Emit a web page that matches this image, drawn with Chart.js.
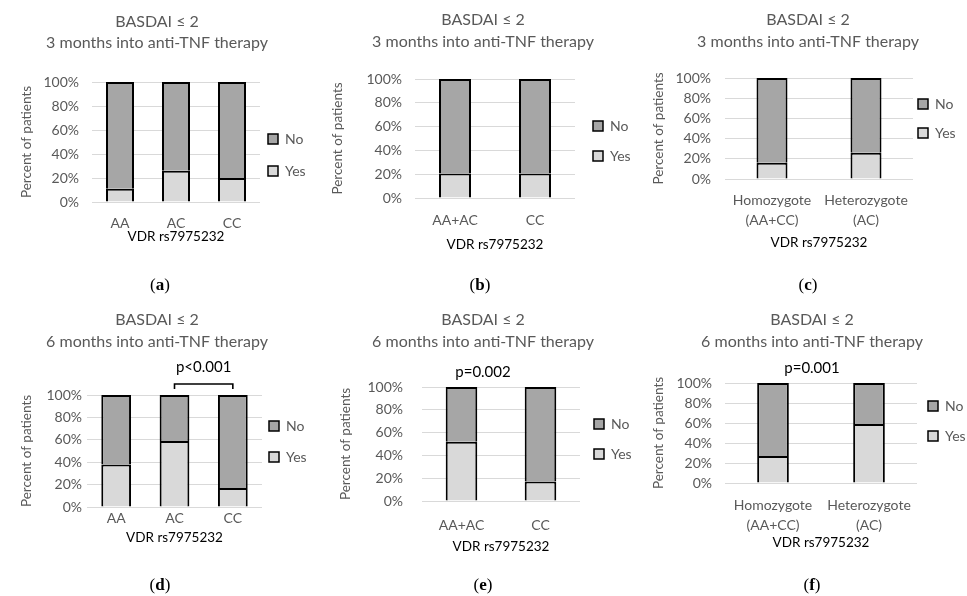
<!DOCTYPE html>
<html><head><meta charset="utf-8">
<script src="https://cdn.jsdelivr.net/npm/chart.js@4.4.1/dist/chart.umd.min.js"></script>
<style>
html,body{margin:0;padding:0;background:#fff;width:967px;height:596px;overflow:hidden;position:relative}
canvas{position:absolute}
.lbl{position:absolute;font-family:"Liberation Serif","DejaVu Serif",serif;font-size:17px;color:#000;transform:translate(-50%,-50%);white-space:nowrap}
</style></head><body>
<script>
// ---------- data ----------
const seriesNames = ['Yes', 'No'];
const title3 = ['BASDAI ≤ 2', '3 months into anti-TNF therapy'];
const title6 = ['BASDAI ≤ 2', '6 months into anti-TNF therapy'];
const xAxisTitle = 'VDR rs7975232';
const yAxisTitle = 'Percent of patients';
const yTicks = [0, 20, 40, 60, 80, 100];

const catsGenotype = ['AA', 'AC', 'CC'];
const catsDominant = ['AA+AC', 'CC'];
const catsZygosity = [['Homozygote', '(AA+CC)'], ['Heterozygote', '(AC)']];

const yesA = [11, 26, 20];     const noA = [89, 74, 80];
const yesB = [20.5, 20.5];     const noB = [79.5, 79.5];
const yesC = [16, 26];         const noC = [84, 74];
const yesD = [38, 59, 17];     const noD = [62, 41, 83];
const yesE = [52, 17];         const noE = [48, 83];
const yesF = [27, 59];         const noF = [73, 41];

const pValueD = 'p<0.001';
const pValueE = 'p=0.002';
const pValueF = 'p=0.001';
const panelLetters = ['a', 'b', 'c', 'd', 'e', 'f'];

// ---------- layout (page pixel targets) ----------
const layouts = {
  a:{L:92, R:260,T:82, B:202,Tx:157,t1:22, t2:43, Yx:27, tickR:79, xTick:223,xT:237,legCy:155,  legStep:32,legOff:8, barPct:0.5, lx:160,ly:285},
  b:{L:415,R:575,T:79, B:198,Tx:483,t1:20, t2:42, Yx:338,tickR:402,xTick:220,xT:245,legCy:141,  legStep:30,legOff:18,barPct:0.4, lx:480,ly:285},
  c:{L:725,R:913,T:78, B:179,Tx:808,t1:20, t2:42, Yx:659,tickR:711,xTick:200,xT:243,legCy:118.5,legStep:29,legOff:5, barPct:0.33,lx:808,ly:285},
  d:{L:87, R:262,T:395,B:507,Tx:157,t1:320,t2:342,Yx:27, tickR:82, xTick:518,xT:538,legCy:441.5,legStep:31,legOff:7, barPct:0.51,lx:160,ly:585,pY:367,brY:384},
  e:{L:422,R:580,T:387,B:501,Tx:483,t1:320,t2:342,Yx:346,tickR:403,xTick:525,xT:547,legCy:439,  legStep:30,legOff:14,barPct:0.4, lx:483,ly:585,pY:372},
  f:{L:725,R:917,T:383,B:483,Tx:812,t1:320,t2:342,Yx:659,tickR:712,xTick:505,xT:543,legCy:421,  legStep:30,legOff:11,barPct:0.33,lx:812,ly:585,pY:368}
};

const FAMILY = 'Lato, "Open Sans", "DejaVu Sans", sans-serif';
Chart.defaults.font.family = FAMILY;
const GRAY = '#595959';
const FS_LEG = 14, BOX = 10;

const measureCtx = document.createElement('canvas').getContext('2d');
measureCtx.font = FS_LEG + 'px ' + FAMILY;
const legendTextW = Math.max(...seriesNames.map(n => measureCtx.measureText(n).width));

const bracketPlugin = {
  id: 'bracket',
  afterDraw(chart, args, o) {
    if (!o || !o.text) return;
    const xs = chart.scales.x, ctx = chart.ctx;
    const x1 = xs.getPixelForValue(o.from), x2 = xs.getPixelForValue(o.to);
    const top = chart.chartArea.top;
    ctx.save();
    ctx.strokeStyle = '#000'; ctx.lineWidth = 1.6;
    ctx.beginPath();
    ctx.moveTo(x1, top - o.lineOff + 5); ctx.lineTo(x1, top - o.lineOff);
    ctx.lineTo(x2, top - o.lineOff); ctx.lineTo(x2, top - o.lineOff + 5);
    ctx.stroke();
    ctx.fillStyle = '#000'; ctx.font = '15px ' + FAMILY;
    ctx.textAlign = 'center'; ctx.textBaseline = 'middle';
    ctx.fillText(o.text, (x1 + x2) / 2, top - o.textOff);
    ctx.restore();
  }
};

function makePanel(id, cats, yes, no, titleLines, pText, bracket) {
  const s = layouts[id];
  const lhTitle = s.t2 - s.t1;
  const legL = s.legStep - s.legOff;
  const legendW = s.legOff + BOX + FS_LEG / 2 + legendTextW + 10;
  const pr = 4;
  const lhAx = 17, lhTick = 20, lhP = 18;
  const a = 2 * s.Tx - s.R - legendW;          // y-axis box left edge (page)
  const x0 = Math.floor(Math.min(a, s.Yx - 12));
  const pl = a - x0;
  const Rend = 2 * s.Tx - a;
  const w = Math.ceil(Rend - x0 + pr);
  const prReal = x0 + w - Rend;
  const titleTop = s.t1 - lhTitle / 2;
  const y0 = Math.floor(Math.min(titleTop - 1, 2 * s.legCy + legL - FS_LEG - s.xT - lhAx / 2 - 3));
  const Epage = 2 * s.legCy + legL - FS_LEG - y0;
  const h = Math.ceil(Epage - y0);
  const pb = y0 + h - Epage;
  const titleBottom = titleTop + 2 * lhTitle;
  const useSub = pText && !bracket;

  const canvas = document.createElement('canvas');
  canvas.width = w; canvas.height = h;
  canvas.style.left = x0 + 'px'; canvas.style.top = y0 + 'px';
  document.body.appendChild(canvas);

  new Chart(canvas, {
    type: 'bar',
    data: {
      labels: cats,
      datasets: [
        {label: seriesNames[0], data: yes, backgroundColor: '#d9d9d9', borderColor: '#000', borderWidth: 2,
         borderSkipped: 'start', barPercentage: s.barPct, categoryPercentage: 1},
        {label: seriesNames[1], data: no, backgroundColor: '#a6a6a6', borderColor: '#000', borderWidth: 2,
         borderSkipped: 'start', barPercentage: s.barPct, categoryPercentage: 1}
      ]
    },
    plugins: [bracketPlugin],
    options: {
      responsive: false, animation: false, devicePixelRatio: 1,
      layout: {padding: {left: pl, right: prReal, top: 0, bottom: pb}},
      plugins: {
        tooltip: {enabled: false},
        title: {display: true, text: titleLines, color: GRAY,
          font: {size: 16, weight: 'normal', lineHeight: lhTitle + 'px'},
          padding: {top: titleTop - y0, bottom: useSub ? 0 : s.T - titleBottom}},
        subtitle: useSub ? {display: true, text: pText, color: '#000',
          font: {size: 15, lineHeight: lhP + 'px'},
          padding: {top: s.pY - lhP / 2 - titleBottom, bottom: s.T - (s.pY + lhP / 2)}} : {display: false},
        legend: {
          position: 'right', reverse: true,
          labels: {
            boxWidth: BOX, boxHeight: BOX, padding: s.legOff, color: GRAY,
            font: {size: FS_LEG, lineHeight: legL + 'px'},
            generateLabels(chart) {
              const items = Chart.defaults.plugins.legend.labels.generateLabels(chart);
              items.forEach(it => { it.text = [it.text]; it.lineWidth = 1.5; it.strokeStyle = '#000'; });
              return items;
            }
          }
        },
        bracket: bracket ? {text: pText, from: bracket[0], to: bracket[1],
          textOff: s.T - s.pY, lineOff: s.T - s.brY} : {}
      },
      scales: {
        x: {
          stacked: true, offset: true,
          grid: {display: false, drawTicks: false}, border: {display: false},
          ticks: {color: GRAY, font: {size: 14, lineHeight: lhTick + 'px'}, padding: s.xTick - s.B - lhTick / 2,
                  autoSkip: false, maxRotation: 0, minRotation: 0},
          title: {display: true, text: xAxisTitle, color: '#000', font: {size: 13.5, lineHeight: lhAx + 'px'},
                  padding: {top: 0, bottom: Epage - s.xT - lhAx / 2}},
          afterFit(sc) { sc.height = Epage - s.B; }
        },
        y: {
          stacked: true, min: 0, max: 100,
          grid: {color: '#d9d9d9', drawTicks: false, lineWidth: 1}, border: {display: false},
          ticks: {stepSize: 20, color: GRAY, font: {size: 14}, padding: s.L - s.tickR, callback: v => v + '%'},
          afterBuildTicks(sc) { sc.ticks = yTicks.map(v => ({value: v})); },
          title: {display: true, text: yAxisTitle, color: GRAY, font: {size: 13.5, lineHeight: lhAx + 'px'},
                  padding: {top: s.Yx - a - lhAx / 2, bottom: 0}},
          afterFit(sc) { sc.width = s.L - a; }
        }
      }
    }
  });

  const d = document.createElement('div');
  d.className = 'lbl';
  d.style.left = s.lx + 'px'; d.style.top = s.ly + 'px';
  d.innerHTML = '(<b>' + id + '</b>)';
  document.body.appendChild(d);
}

makePanel(panelLetters[0], catsGenotype, yesA, noA, title3);
makePanel(panelLetters[1], catsDominant, yesB, noB, title3);
makePanel(panelLetters[2], catsZygosity, yesC, noC, title3);
makePanel(panelLetters[3], catsGenotype, yesD, noD, title6, pValueD, [1, 2]);
makePanel(panelLetters[4], catsDominant, yesE, noE, title6, pValueE);
makePanel(panelLetters[5], catsZygosity, yesF, noF, title6, pValueF);
</script>
</body></html>
